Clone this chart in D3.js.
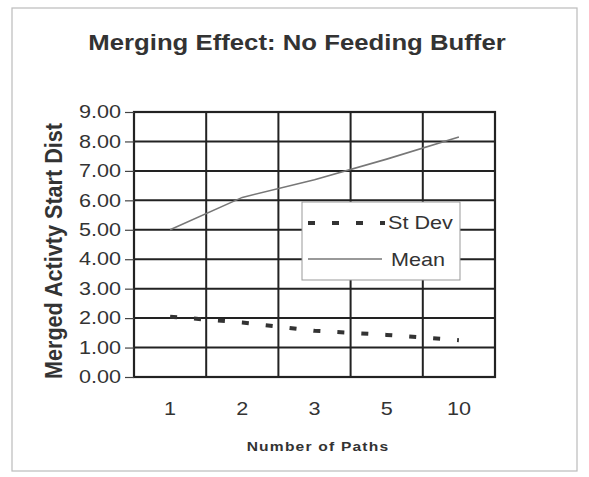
<!DOCTYPE html>
<html><head><meta charset="utf-8">
<script src="https://cdn.jsdelivr.net/npm/d3@7"></script>
<style>body{margin:0;background:#fff}svg{display:block}text{font-family:"Liberation Sans",Arial,sans-serif;fill:#333}</style>
</head><body>
<script>
const categories = ["1","2","3","5","10"];
const meanValues = [5.0, 6.1, 6.7, 7.4, 8.15];
const stdevValues = [2.05, 1.85, 1.57, 1.43, 1.25];
const yTicks = [0,1,2,3,4,5,6,7,8,9];
const seriesNames = ["St Dev","Mean"];

const W=589,H=477, SX=1.2;
const svg=d3.select("body").append("svg").attr("width",W).attr("height",H);
svg.append("rect").attr("x",12).attr("y",8).attr("width",565).attr("height",463)
  .attr("fill","#fff").attr("stroke","#bbb").attr("stroke-width",1.2);

const L=134,R=495,T=112,B=377;
const x=d3.scaleBand().domain(categories).range([L,R]).padding(0);
const y=d3.scaleLinear().domain([0,9]).range([B,T]);
const cx=c=>x(c)+x.bandwidth()/2;

function stext(g,str,px,py,size,weight,anchor,sx){
  return g.append("text").attr("transform",`translate(${px},${py}) scale(${sx||SX},1)`)
    .attr("font-size",size).attr("font-weight",weight||"normal")
    .attr("text-anchor",anchor||"start").text(str);
}

// title
stext(svg,"Merging Effect: No Feeding Buffer",297,50,22,"bold","middle",1.17);

// grid
const grid=svg.append("g").attr("stroke","#222").attr("stroke-width",2);
grid.selectAll(".h").data(yTicks).join("line")
  .attr("x1",L).attr("x2",R).attr("y1",d=>y(d)).attr("y2",d=>y(d));
grid.selectAll(".v").data(categories.slice(1)).join("line")
  .attr("x1",d=>x(d)).attr("x2",d=>x(d)).attr("y1",T).attr("y2",B);
svg.append("rect").attr("x",L).attr("y",T).attr("width",R-L).attr("height",B-T)
  .attr("fill","none").attr("stroke","#222").attr("stroke-width",2.2);

// y axis
const ya=svg.append("g").attr("transform",`translate(${L},0)`)
  .call(d3.axisLeft(y).tickValues(yTicks).tickFormat(d3.format(".2f")).tickSize(9).tickPadding(4));
ya.select(".domain").remove();
ya.selectAll(".tick line").attr("stroke","#444").attr("stroke-width",1.2);
ya.selectAll(".tick text").attr("font-size",18).attr("fill","#333")
  .attr("x",null).attr("transform",`translate(-13,0) scale(${SX},1)`)
  .style("font-family","Liberation Sans, Arial, sans-serif");

// x axis
const xa=svg.append("g").attr("transform",`translate(0,${B})`)
  .call(d3.axisBottom(x).tickSize(0).tickPadding(0));
xa.select(".domain").remove();
xa.selectAll(".tick text").attr("font-size",18).attr("fill","#333").attr("y",null).attr("dy",null)
  .attr("transform",`translate(0,38) scale(${SX},1)`)
  .style("font-family","Liberation Sans, Arial, sans-serif");

// axis titles
stext(svg,"Number of Paths",318,451,13,"bold","middle").attr("letter-spacing",1);
svg.append("text").attr("transform",`translate(62,251) scale(1.2,1) rotate(-90)`)
  .attr("font-size",20).attr("font-weight","bold").attr("text-anchor","middle")
  .attr("textLength",256).attr("lengthAdjust","spacingAndGlyphs")
  .text("Merged Activty Start Dist");

// lines
const line=vals=>d3.line().x((d,i)=>cx(categories[i])).y(d=>y(d))(vals);
svg.append("path").attr("d",line(meanValues)).attr("fill","none")
  .attr("stroke","#777").attr("stroke-width",1.6);
svg.append("path").attr("d",line(stdevValues)).attr("fill","none")
  .attr("stroke","#333").attr("stroke-width",4).attr("stroke-dasharray","7,17");

// legend
const lg=svg.append("g");
lg.append("rect").attr("x",302).attr("y",202).attr("width",158).attr("height",78)
  .attr("fill","#fff").attr("stroke","#999").attr("stroke-width",1);
lg.append("line").attr("x1",308).attr("x2",385).attr("y1",223).attr("y2",223)
  .attr("stroke","#333").attr("stroke-width",4).attr("stroke-dasharray","7,17");
lg.append("line").attr("x1",308).attr("x2",382).attr("y1",259).attr("y2",259)
  .attr("stroke","#777").attr("stroke-width",1.6);
stext(lg,seriesNames[0],388,229,18,"normal","start");
stext(lg,seriesNames[1],391,266,18,"normal","start");
</script>
</body></html>
